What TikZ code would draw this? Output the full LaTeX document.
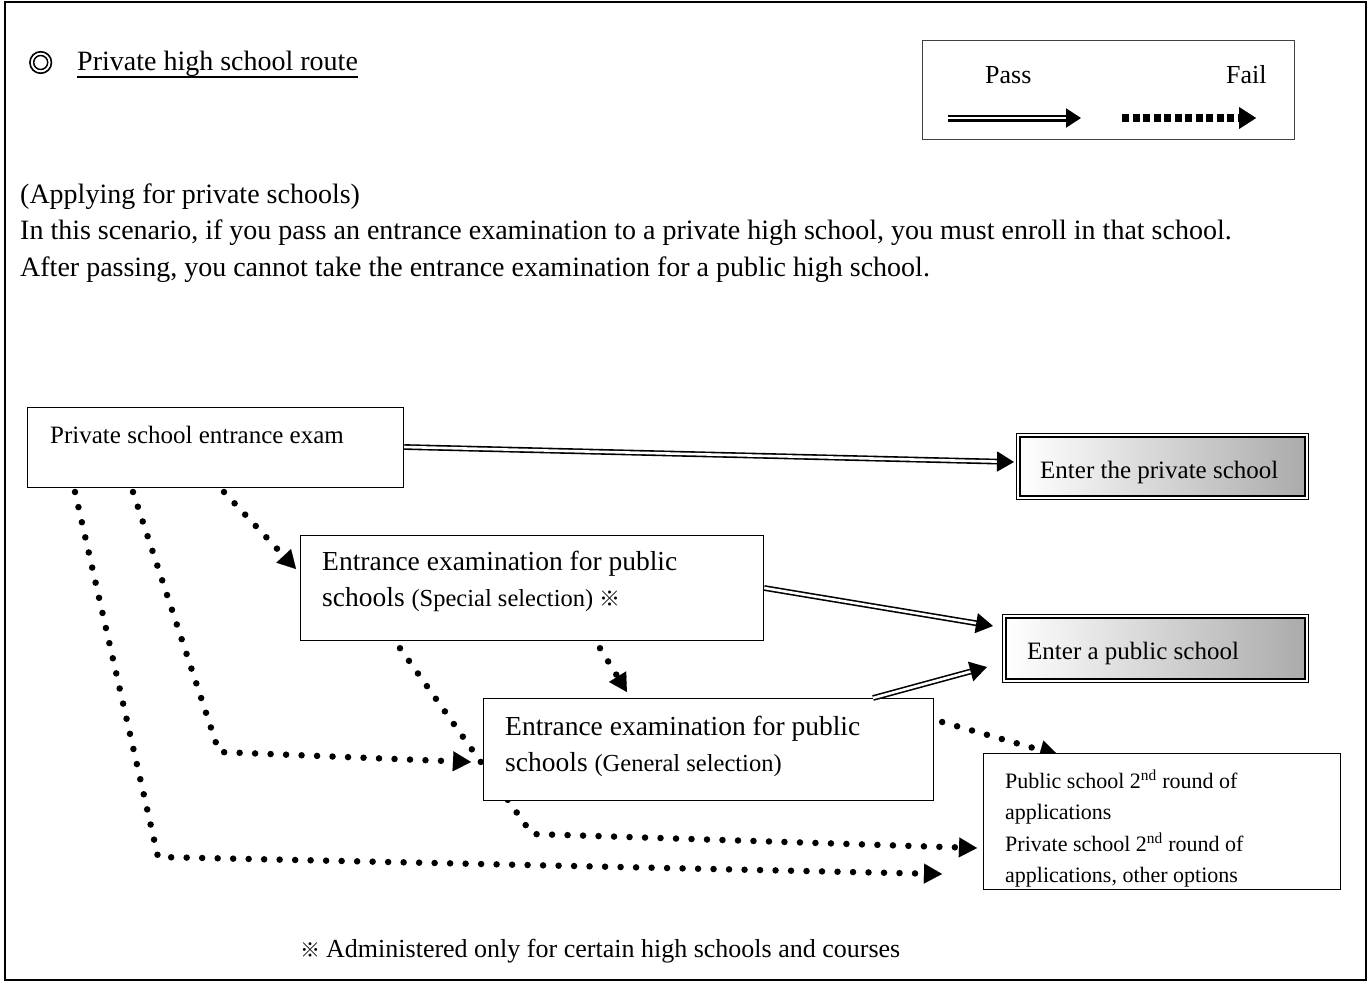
\documentclass[tikz,border=0pt]{standalone}
\usepackage{fontspec}
\setmainfont{Liberation Serif}
\newfontfamily\cjk{Noto Sans CJK JP}
\newfontfamily\cjkbold{Noto Sans CJK JP}[FakeBold=2.5]
\usetikzlibrary{arrows.meta,calc,backgrounds}
\begin{document}
\begin{tikzpicture}[x=1pt,y=-1pt,
  box/.style={draw, line width=1.2pt, fill=white, inner sep=0pt, anchor=north west},
  txt/.style={inner sep=0pt, anchor=base west, font=\fontsize{25}{30}\selectfont},
  bodytxt/.style={txt, font=\fontsize{28}{33}\selectfont},
  bigtxt/.style={txt, font=\fontsize{27.5}{33}\selectfont},
  smalltxt/.style={txt, font=\fontsize{22}{26}\selectfont},
  pass/.style={double, double distance=2.6pt, line width=1.6pt, -{Triangle[length=17pt,width=20pt]}},
  legpass/.style={double, double distance=2.6pt, line width=2.2pt, -{Triangle[length=15pt,width=19pt]}},
  fail/.style={line width=6.5pt, line cap=round, dash pattern=on 0pt off 15.5pt, -{Triangle[length=18pt,width=20pt,line width=0.1pt,sharp]}},
  legfail/.style={line width=8pt, dash pattern=on 7pt off 3.5pt, -{Triangle[length=17pt,width=22pt,line width=0.1pt,sharp]}},
  shadebox/.style={draw, line width=2pt, left color=white, right color=black!33}
]
\useasboundingbox (0,0) rectangle (1371,983);
\draw[line width=1.5pt] (5,2) rectangle (1366,980);

% title
\node[txt, font=\cjkbold\fontsize{25}{28}\selectfont] (mark) at (28,72) {◎};
\node[txt, font=\fontsize{28}{33}\selectfont] (title) at (77,70) {Private high school route};
\draw[line width=1.8pt] ($(title.base west)+(0,7)$) -- ($(title.base east)+(0,7)$);

% legend
\node[box, draw=black!75, line width=1pt, minimum width=372pt, minimum height=99pt] (legend) at (922,40) {};
\node[txt, font=\fontsize{26}{30}\selectfont] (passl) at (985,83) {Pass};
\node[txt, font=\fontsize{26}{30}\selectfont] (faill) at (1226,83) {Fail};
\coordinate (lp1) at (948,118);
\coordinate (lp2) at (1081,118);
\coordinate (lf1) at (1122,118);
\coordinate (lf2) at (1256,118);
\draw[legpass] (lp1) -- (lp2);
\draw[legfail] (lf1) -- (lf2);

% intro text
\node[bodytxt] (l1) at (20,203) {(Applying for private schools)};
\node[bodytxt] (l2) at (20,239) {In this scenario, if you pass an entrance examination to a private high school, you must enroll in that school.};
\node[bodytxt] (l3) at (20,276) {After passing, you cannot take the entrance examination for a public high school.};

% boxes
\node[box, minimum width=376pt, minimum height=80pt] (A) at (27,407) {};
\node[txt] (At) at (50,443) {Private school entrance exam};
\node[box, minimum width=463pt, minimum height=105pt] (D) at (300,535) {};
\node[box, minimum width=450pt, minimum height=102pt] (E) at (483,698) {};
\node[box, minimum width=357pt, minimum height=136pt] (F) at (983,753) {};

\coordinate (a1) at (75,492);
\coordinate (a2) at (133,492);
\coordinate (a3) at (224,492);
\coordinate (c2) at (219,752);
\coordinate (c3) at (158,857);
\coordinate (c4) at (532,834);

% fail arrows (behind the boxes)
\begin{scope}[on background layer]
\draw[fail] (a3) -- ($(D.north west)+(-4,34)$);
\draw[fail] (a2) -- (c2) -- ($(E.north west)+(-12,64)$);
\draw[fail] (a1) -- (c3) -- ($(F.north west)+(-41,121)$);
\draw[fail] ($(D.south west)+(100,7)$) -- (c4) -- ($(F.north west)+(-6,95)$);
\draw[fail] ($(D.south west)+(300,7)$) -- ($(E.north west)+(144,-6)$);
\draw[fail] ($(E.north east)+(8,24)$) -- ($(F.north west)+(75,2)$);
\end{scope}

% box texts
\node[bigtxt] (Et1) at (505,735) {Entrance examination for public};
\node[bigtxt] (Et2) at (505,771) {schools {\fontsize{24.5}{28}\selectfont(General selection)}};

\node[bigtxt] (Dt1) at (322,570) {Entrance examination for public};
\node[bigtxt] (Dt2) at (322,606) {schools {\fontsize{24.5}{28}\selectfont(Special selection) {\cjk\fontsize{21}{24}\selectfont ※}}};

\node[smalltxt] (Ft1) at (1005,788) {Public school 2\textsuperscript{nd} round of};
\node[smalltxt] (Ft2) at (1005,819.5) {applications};
\node[smalltxt] (Ft3) at (1005,851) {Private school 2\textsuperscript{nd} round of};
\node[smalltxt] (Ft4) at (1005,882) {applications, other options};

% result boxes
\node[box, line width=1pt, minimum width=292pt, minimum height=66pt] (B) at (1016,433) {};
\shade[shadebox] ($(B.north west)+(4,4)$) rectangle ($(B.south east)+(-4,-4)$);
\node[txt] (Bt) at (1040,478) {Enter the private school};

\node[box, line width=1pt, minimum width=306pt, minimum height=68pt] (C) at (1002,614) {};
\shade[shadebox] ($(C.north west)+(4,4)$) rectangle ($(C.south east)+(-4,-4)$);
\node[txt] (Ct) at (1027,659) {Enter a public school};

% pass arrows
\draw[pass] ($(A.north east)+(0,40)$) -- ($(B.north west)+(-2,29)$);
\draw[pass] ($(D.north east)+(0,53)$) -- ($(C.north west)+(-9,12)$);
\draw[pass] ($(E.north west)+(390,0)$) -- ($(C.north west)+(-15,53)$);

% footnote
\node[txt, font=\cjk\fontsize{20}{24}\selectfont] (notemark) at (300,957) {※};
\node[txt, font=\fontsize{26}{30}\selectfont] (note) at (326,957) {Administered only for certain high schools and courses};
\end{tikzpicture}
\end{document}
